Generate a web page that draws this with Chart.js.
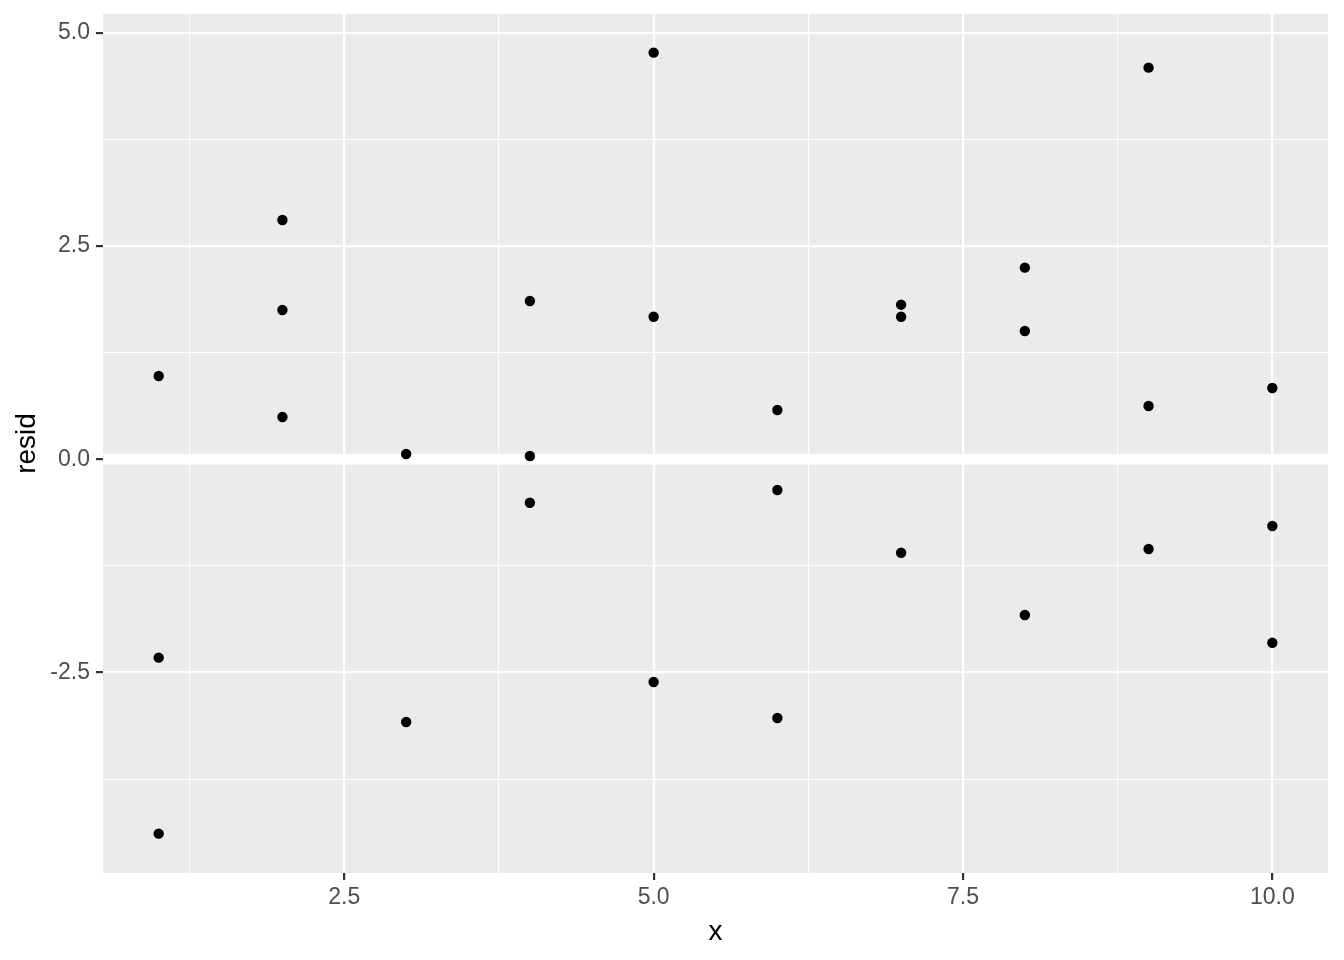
<!DOCTYPE html>
<html>
<head>
<meta charset="utf-8">
<script src="https://cdn.jsdelivr.net/npm/chart.js@4/dist/chart.umd.min.js"></script>
<style>
  html, body { margin: 0; padding: 0; background: #ffffff; }
  #wrap { width: 1344px; height: 960px; }
</style>
</head>
<body>
<div id="wrap"><canvas id="c" width="1344" height="960"></canvas></div>
<script>
// ---- data ----
const xValues = [1, 1, 1, 2, 2, 2, 3, 3, 4, 4, 4, 5, 5, 5, 6, 6, 6, 7, 7, 7, 8, 8, 8, 9, 9, 9, 10, 10, 10];
const residValues = [0.976, -2.325, -4.388, 2.805, 1.750, 0.496, 0.062, -3.079, 1.855, 0.039, -0.509,
  4.766, 1.671, -2.610, 0.578, -0.360, -3.032, 1.812, 1.671, -1.096, 2.246, 1.504, -1.825,
  4.590, 0.625, -1.051, 0.836, -0.782, -2.151];
const xMajorTicks = [2.5, 5.0, 7.5, 10.0];
const xMinorTicks = [1.25, 3.75, 6.25, 8.75];
const yMajorTicks = [-2.5, 0.0, 2.5, 5.0];
const yMinorTicks = [-3.75, -1.25, 1.25, 3.75];
const xLimits = [0.55, 10.45];
const yLimits = [-4.849, 5.219];
const hlineY = 0;

const points = xValues.map((x, i) => ({ x: x, y: residValues[i] }));

const isMajor = (list, v) => list.some(t => Math.abs(t - v) < 1e-9);

const panelBg = {
  id: 'panelBg',
  beforeDraw(chart) {
    const { ctx, chartArea: a } = chart;
    ctx.save();
    ctx.fillStyle = '#EBEBEB';
    ctx.fillRect(a.left, a.top, a.right - a.left, a.bottom - a.top);
    ctx.restore();
  }
};

const hline = {
  id: 'hline',
  beforeDatasetsDraw(chart) {
    const { ctx, chartArea: a, scales } = chart;
    const py = scales.y.getPixelForValue(hlineY);
    ctx.save();
    ctx.strokeStyle = '#FFFFFF';
    ctx.lineWidth = 11;
    ctx.beginPath();
    ctx.moveTo(a.left, py);
    ctx.lineTo(a.right, py);
    ctx.stroke();
    ctx.restore();
  }
};

function gridOpts(majors) {
  return {
    drawOnChartArea: true,
    drawTicks: true,
    tickLength: 7,
    color: '#FFFFFF',
    lineWidth: ctx => (ctx.tick && isMajor(majors, ctx.tick.value)) ? 2.2 : 1.1,
    tickColor: ctx => (ctx.tick && isMajor(majors, ctx.tick.value)) ? '#333333' : 'rgba(0,0,0,0)',
    tickWidth: 2.2
  };
}

function zeroPad(s) {
  s.paddingTop = 0; s.paddingBottom = 0; s.paddingLeft = 0; s.paddingRight = 0;
}

new Chart(document.getElementById('c'), {
  type: 'scatter',
  data: {
    datasets: [{
      data: points,
      backgroundColor: '#000000',
      borderColor: '#000000',
      borderWidth: 0,
      pointRadius: 5.2,
      pointHoverRadius: 5.2
    }]
  },
  options: {
    responsive: false,
    animation: false,
    devicePixelRatio: 1,
    layout: { padding: { top: 14, right: 16, left: 0, bottom: 0 } },
    plugins: { legend: { display: false }, tooltip: { enabled: false } },
    scales: {
      x: {
        type: 'linear',
        min: xLimits[0],
        max: xLimits[1],
        afterBuildTicks: s => { s.ticks = xMinorTicks.concat(xMajorTicks).sort((a, b) => a - b).map(v => ({ value: v })); },
        afterFit: s => { s.height = 87; zeroPad(s); },
        border: { display: false },
        grid: gridOpts(xMajorTicks),
        ticks: {
          autoSkip: false,
          maxRotation: 0,
          padding: 4,
          color: '#4D4D4D',
          font: { family: 'Liberation Sans, Arial, sans-serif', size: 23 },
          callback: v => isMajor(xMajorTicks, v) ? v.toFixed(1) : ''
        },
        title: {
          display: true,
          text: 'x',
          color: '#000000',
          font: { family: 'Liberation Sans, Arial, sans-serif', size: 28 },
          padding: { top: 0, bottom: 11 }
        }
      },
      y: {
        type: 'linear',
        min: yLimits[0],
        max: yLimits[1],
        afterBuildTicks: s => { s.ticks = yMinorTicks.concat(yMajorTicks).sort((a, b) => a - b).map(v => ({ value: v })); },
        afterFit: s => { s.width = 103; zeroPad(s); },
        border: { display: false },
        grid: gridOpts(yMajorTicks),
        ticks: {
          autoSkip: false,
          padding: 6,
          color: '#4D4D4D',
          font: { family: 'Liberation Sans, Arial, sans-serif', size: 23 },
          callback: v => isMajor(yMajorTicks, v) ? v.toFixed(1) : ''
        },
        title: {
          display: true,
          text: 'resid',
          color: '#000000',
          font: { family: 'Liberation Sans, Arial, sans-serif', size: 28 },
          padding: { top: 10, bottom: 0 }
        }
      }
    }
  },
  plugins: [panelBg, hline]
});
</script>
</body>
</html>
